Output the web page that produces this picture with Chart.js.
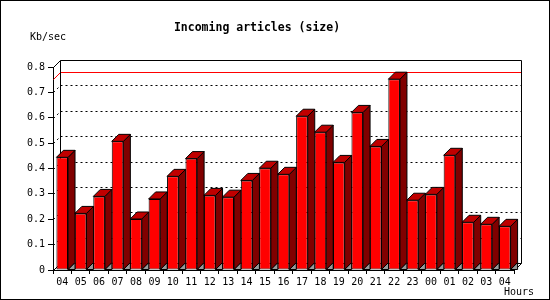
<!DOCTYPE html>
<html>
<head>
<meta charset="utf-8">
<script src="https://cdn.jsdelivr.net/npm/chart.js@4/dist/chart.umd.min.js"></script>
<style>
  html, body { margin: 0; padding: 0; background: #fff; }
</style>
</head>
<body>
<canvas id="grafico" width="550" height="300"></canvas>
<script>
const horas = ['04', '05', '06', '07', '08', '09', '10', '11', '12', '13', '14', '15', '16',
  '17', '18', '19', '20', '21', '22', '23', '00', '01', '02', '03', '04'];
const kbSec = [0.444, 0.223, 0.290, 0.507, 0.201, 0.280, 0.369, 0.439, 0.294, 0.287, 0.353, 0.401, 0.377,
  0.606, 0.543, 0.424, 0.621, 0.487, 0.752, 0.275, 0.298, 0.452, 0.188, 0.180, 0.172];
const valoresY = [0, 0.1, 0.2, 0.3, 0.4, 0.5, 0.6, 0.7, 0.8];
const etiquetasY = ['0', '0.1', '0.2', '0.3', '0.4', '0.5', '0.6', '0.7', '0.8'];
const lineasGrilla = [0.1, 0.2, 0.3, 0.4, 0.5, 0.6, 0.7];

const titulo = 'Incoming articles (size)';
const unidadY = 'Kb/sec';
const unidadX = 'Hours';

const PROF = 7; // profundidad del efecto 3D
const fuente = 'DejaVu Sans Mono';

function linea(ctx, x1, y1, x2, y2) {
  ctx.beginPath();
  ctx.moveTo(x1, y1);
  ctx.lineTo(x2, y2);
  ctx.stroke();
}

function poligono(ctx, puntos, relleno) {
  ctx.beginPath();
  ctx.moveTo(puntos[0][0], puntos[0][1]);
  puntos.slice(1).forEach(p => ctx.lineTo(p[0], p[1]));
  ctx.closePath();
  ctx.fillStyle = relleno;
  ctx.fill();
  ctx.stroke();
}

const caja3d = {
  id: 'caja3d',
  beforeDraw(chart) {
    const ctx = chart.ctx;
    ctx.save();
    ctx.fillStyle = '#fff';
    ctx.fillRect(0, 0, chart.width, chart.height);
    ctx.restore();
  },
  beforeDatasetsDraw(chart) {
    const { ctx, chartArea: a, scales: { y } } = chart;
    const L = Math.round(a.left) + 0.5;
    const R = Math.round(a.right) + 0.5;
    const T = Math.round(a.top) + 0.5;
    const B = Math.round(a.bottom) + 0.5;

    ctx.save();
    ctx.lineWidth = 1;
    ctx.strokeStyle = '#000';

    // grilla punteada sobre el plano del fondo y la pared izquierda
    ctx.setLineDash([2, 3]);
    lineasGrilla.forEach(v => {
      const py = Math.round(y.getPixelForValue(v)) + 0.5;
      linea(ctx, L + PROF, py - PROF, R + PROF, py - PROF);
      linea(ctx, L, py, L + PROF, py - PROF);
    });
    ctx.setLineDash([]);

    // linea roja del maximo
    const maximo = Math.max(...kbSec);
    const pm = Math.round(y.getPixelForValue(maximo)) + 0.5;
    ctx.strokeStyle = '#ff0000';
    linea(ctx, L + PROF, pm - PROF, R + PROF, pm - PROF);
    linea(ctx, L, pm, L + PROF, pm - PROF);

    // marco del fondo, techo y piso
    ctx.strokeStyle = '#000';
    ctx.beginPath();
    ctx.moveTo(L + PROF, B - PROF);
    ctx.lineTo(L + PROF, T - PROF);
    ctx.lineTo(R + PROF, T - PROF);
    ctx.lineTo(R + PROF, B - PROF);
    ctx.lineTo(L + PROF, B - PROF);
    ctx.stroke();
    linea(ctx, L, T, L + PROF, T - PROF);
    linea(ctx, L, B, L + PROF, B - PROF);
    linea(ctx, R, B, R + PROF, B - PROF);

    // caras laterales y superiores de cada barra
    chart.getDatasetMeta(0).data.forEach(barra => {
      const izq = barra.x - barra.width / 2;
      const der = barra.x + barra.width / 2;
      const arriba = barra.y;
      const base = barra.base;
      poligono(ctx, [[der, base], [der + PROF, base - PROF], [der + PROF, base]], '#999999');
      poligono(ctx, [[der, arriba], [der + PROF, arriba - PROF], [der + PROF, base - PROF], [der, base]], '#800000');
      poligono(ctx, [[izq, arriba], [izq + PROF, arriba - PROF], [der + PROF, arriba - PROF], [der, arriba]], '#c00000');
    });
    ctx.restore();
  },
  afterDraw(chart) {
    const ctx = chart.ctx;
    ctx.save();
    ctx.fillStyle = '#000';
    ctx.font = '10px "' + fuente + '"';
    ctx.textBaseline = 'middle';
    ctx.textAlign = 'left';
    ctx.fillText(unidadY, 30, 37);
    ctx.fillText(unidadX, 504, 292);
    ctx.strokeStyle = '#000';
    ctx.lineWidth = 1;
    ctx.strokeRect(0.5, 0.5, chart.width - 1, chart.height - 1);
    ctx.restore();
  }
};

function crearGrafico() {
  const ctx = document.getElementById('grafico').getContext('2d');
  new Chart(ctx, {
    type: 'bar',
    data: {
      labels: horas,
      datasets: [{
        data: kbSec,
        backgroundColor: '#ff0000',
        borderColor: '#000',
        borderWidth: 1,
        borderSkipped: false,
        categoryPercentage: 1,
        barPercentage: 0.63
      }]
    },
    options: {
      responsive: false,
      animation: false,
      devicePixelRatio: 1,
      layout: { padding: { left: 0, right: 36, top: 0, bottom: 0 } },
      plugins: {
        legend: { display: false },
        tooltip: { enabled: false },
        title: {
          display: true,
          text: titulo,
          color: '#000',
          font: { family: fuente, size: 11.5, weight: 'bold' },
          padding: { top: 21, bottom: 32.2 }
        }
      },
      scales: {
        x: {
          afterFit: s => { s.height = 30; },
          ticks: {
            color: '#000',
            font: { family: fuente, size: 10 },
            padding: 2,
            maxRotation: 0,
            autoSkip: false
          },
          grid: { offset: true, drawOnChartArea: false, tickLength: 4, color: '#000' },
          border: { color: '#000' }
        },
        y: {
          min: 0,
          max: 0.8,
          afterFit: s => { s.width = 53; },
          afterBuildTicks: s => { s.ticks = valoresY.map(v => ({ value: v })); },
          ticks: {
            color: '#000',
            font: { family: fuente, size: 10 },
            padding: 3,
            callback: (v, i) => etiquetasY[i]
          },
          grid: { drawOnChartArea: false, tickLength: 5, color: '#000' },
          border: { color: '#000' }
        }
      }
    },
    plugins: [caja3d]
  });
}

document.addEventListener('DOMContentLoaded', crearGrafico);
</script>
</body>
</html>
